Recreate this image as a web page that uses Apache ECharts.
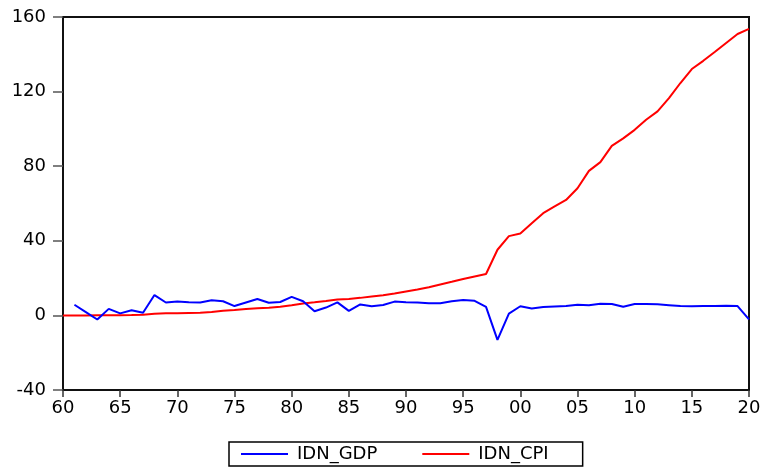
<!DOCTYPE html>
<html>
<head>
<meta charset="utf-8">
<script src="https://cdn.jsdelivr.net/npm/echarts@6/dist/echarts.min.js"></script>
<style>
  html, body { margin: 0; padding: 0; background: #fff; }
  #chart { width: 765px; height: 470px; }
</style>
</head>
<body>
<div id="chart"></div>
<script>
// Indonesia: real GDP growth (%) and consumer price index, 1960-2020
const years = [1960, 1961, 1962, 1963, 1964, 1965, 1966, 1967, 1968, 1969,
  1970, 1971, 1972, 1973, 1974, 1975, 1976, 1977, 1978, 1979,
  1980, 1981, 1982, 1983, 1984, 1985, 1986, 1987, 1988, 1989,
  1990, 1991, 1992, 1993, 1994, 1995, 1996, 1997, 1998, 1999,
  2000, 2001, 2002, 2003, 2004, 2005, 2006, 2007, 2008, 2009,
  2010, 2011, 2012, 2013, 2014, 2015, 2016, 2017, 2018, 2019, 2020];

const idnGdp = [null, 5.7, 1.8, -2.2, 3.5, 1.1, 2.8, 1.4, 10.9, 6.9,
  7.5, 7.0, 6.9, 8.1, 7.6, 5.0, 6.9, 8.8, 6.8, 7.2,
  9.9, 7.6, 2.2, 4.2, 7.0, 2.4, 5.9, 4.9, 5.6, 7.4,
  7.1, 6.9, 6.5, 6.5, 7.6, 8.2, 7.8, 4.6, -13.1, 1.0,
  4.9, 3.7, 4.5, 4.8, 5.0, 5.7, 5.5, 6.3, 6.1, 4.6,
  6.1, 6.1, 6.0, 5.5, 5.0, 4.9, 5.0, 5.1, 5.2, 5.0, -2.1];

const idnCpi = [0.0, 0.0, 0.0, 0.1, 0.1, 0.1, 0.2, 0.4, 0.9, 1.1,
  1.2, 1.3, 1.4, 1.8, 2.5, 2.9, 3.4, 3.8, 4.1, 4.7,
  5.5, 6.4, 7.0, 7.7, 8.5, 8.8, 9.4, 10.1, 10.8, 11.7,
  12.8, 13.9, 15.1, 16.6, 18.0, 19.5, 20.9, 22.2, 35.2, 42.5,
  43.9, 49.4, 54.8, 58.4, 61.9, 68.2, 77.5, 82.2, 90.9, 94.9,
  99.5, 104.9, 109.4, 116.5, 124.6, 132.1, 136.5, 141.2, 146.1, 150.9, 153.6];

const yTicks = { min: -40, max: 160, step: 40 };
const xTicks = { min: 1960, max: 2020, step: 5 };

const pairs = (vals) => years.map((y, i) => [y, vals[i]]);

const FONT = 'DejaVu Sans';
const INK = '#111';

const chart = echarts.init(document.getElementById('chart'), null, { renderer: 'canvas' });

chart.setOption({
  animation: false,
  backgroundColor: '#fff',
  textStyle: { fontFamily: FONT },
  grid: {
    left: 63, right: 16, top: 17, bottom: 80,
    show: true, borderColor: INK, borderWidth: 2, backgroundColor: 'transparent'
  },
  xAxis: {
    type: 'value',
    min: xTicks.min, max: xTicks.max, interval: xTicks.step,
    axisLine: { show: true, onZero: false, lineStyle: { color: INK, width: 2 } },
    axisTick: { show: true, inside: false, length: 7, lineStyle: { color: '#333', width: 1.5 } },
    axisLabel: {
      margin: 9, color: '#000', fontFamily: FONT, fontSize: 18,
      formatter: (v) => String(v % 100).padStart(2, '0')
    },
    splitLine: { show: false }
  },
  yAxis: {
    type: 'value',
    min: yTicks.min, max: yTicks.max, interval: yTicks.step,
    axisLine: { show: true, onZero: false, lineStyle: { color: INK, width: 2 } },
    axisTick: { show: true, inside: false, length: 10, lineStyle: { color: '#555', width: 1.5 } },
    axisLabel: { margin: 17, color: '#000', fontFamily: FONT, fontSize: 18 },
    splitLine: { show: false }
  },
  legend: {
    left: 229, top: 442,
    orient: 'horizontal',
    padding: [3, 34, 3, 12],
    borderColor: '#000', borderWidth: 1.5,
    itemWidth: 47, itemHeight: 2, itemGap: 45,
    icon: 'rect',
    textStyle: {
      color: '#000', fontFamily: FONT, fontSize: 18,
      padding: [0, 0, 0, 4]
    },
    data: ['IDN_GDP', 'IDN_CPI']
  },
  series: [
    {
      name: 'IDN_GDP', type: 'line', data: pairs(idnGdp),
      showSymbol: false, symbol: 'none', connectNulls: false,
      lineStyle: { color: '#0000ff', width: 2 }, itemStyle: { color: '#0000ff' },
      z: 3
    },
    {
      name: 'IDN_CPI', type: 'line', data: pairs(idnCpi),
      showSymbol: false, symbol: 'none',
      lineStyle: { color: '#ff0000', width: 2 }, itemStyle: { color: '#ff0000' },
      z: 2
    }
  ]
});
</script>
</body>
</html>
